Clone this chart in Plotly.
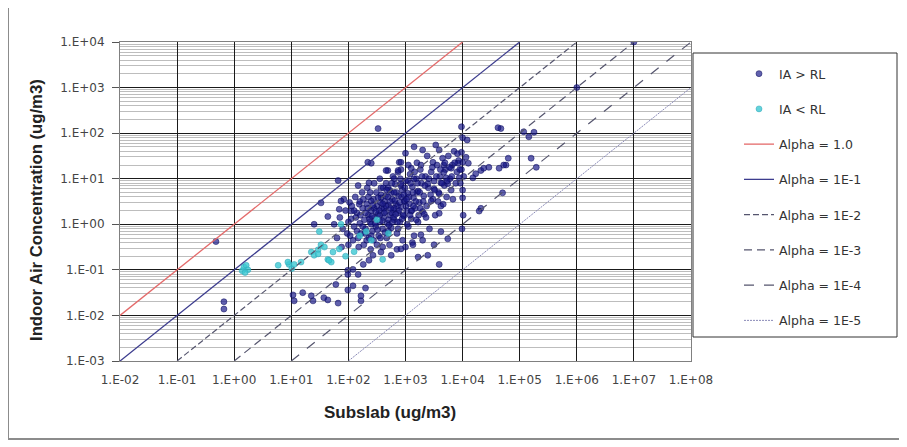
import plotly.graph_objects as go

# ---- data (as log10 values) ----
ia_above_log_x = [
    -0.32, -0.18, -0.18, 7.0, 6.0, 2.52,
    3.98, 4.0, 4.08, 3.98, 4.06, 4.0, 4.1, 4.67, 5.07, 5.16, 5.25, 4.8, 4.76, 4.64,
    4.32, 4.23, 4.37, 4.46, 4.18, 4.7, 4.32, 5.2, 5.29, 3.98, 4.02, 3.96, 4.0, 4.01,
    3.99, 4.62, 4.72, 4.29,
    2.05, 2.1, 2.15, 2.2, 2.22, 2.25, 2.28, 2.3, 2.32, 2.35, 2.36, 2.38, 2.4, 2.42,
    2.44, 2.46, 2.48, 2.5, 2.52, 2.53, 2.55, 2.57, 2.58, 2.6, 2.62, 2.63, 2.65, 2.67,
    2.68, 2.7, 2.72, 2.73, 2.75, 2.77, 2.78, 2.8, 2.82, 2.83, 2.85, 2.87, 2.88, 2.9,
    2.92, 2.94, 2.95, 2.97, 2.98, 3.0, 3.02, 3.04, 3.05, 3.07, 3.08, 3.1, 3.12, 3.14,
    3.15, 3.17, 3.19, 3.2, 3.22, 3.24, 3.26, 3.28, 3.3, 3.32, 3.35, 3.37, 3.4, 3.42,
    3.45, 3.48, 3.5, 3.52, 3.55, 3.58, 3.6, 3.62, 3.65, 3.68, 3.7, 3.72, 3.75, 3.78,
    3.8, 3.82, 3.85, 3.88, 3.9, 3.93, 1.95, 1.98, 2.0, 2.02, 2.08, 2.12, 2.18, 2.24,
    2.27, 2.33, 2.39, 2.45, 2.5, 2.55, 2.6, 2.66, 2.72, 2.78, 2.85, 2.92, 3.0, 3.05,
    3.12, 3.2, 3.3, 3.38, 1.9, 1.85, 1.8, 1.75, 1.88, 1.92, 2.4, 2.45, 2.62, 2.7,
    2.76, 2.86, 2.55, 2.65,
    1.99, 2.08, 2.17, 2.43, 2.36, 2.26, 2.57, 2.75, 2.92, 3.22, 3.39, 3.59, 3.13, 3.5,
    3.74, 3.62, 3.27, 2.22, 2.22, 1.99, 1.99,
    1.2, 1.35, 1.38, 1.57, 1.82, 1.05, 1.03, 1.78, 2.08, 1.64, 2.3,
    2.34, 2.4, 2.89, 2.69, 2.87, 1.82, 2.17, 2.36, 2.57, 1.52, 1.87, 1.84, 1.64, 2.05,
    2.19, 2.4, 2.57, 2.75, 2.92, 1.4,
    3.15, 3.3, 3.53, 3.59, 2.92, 3.0, 2.66, 2.87, 3.1, 3.27, 3.48, 3.67, 3.8, 3.92,
    3.67, 3.71, 3.74, 3.62, 3.5, 3.39, 3.15, 3.04, 2.92, 2.8, 2.69, 3.22, 3.45, 3.66,
    3.83, 4.0, 3.94, 3.59, 2.98, 2.8, 3.1, 3.33, 3.59,
    2.1, 2.15, 2.2, 2.25, 2.3, 2.32, 2.35, 2.37, 2.4, 2.43, 2.47, 2.49, 2.51, 2.54,
    2.56, 2.59, 2.61, 2.64, 2.66, 2.69, 2.71, 2.74, 2.76, 2.79, 2.81, 2.84, 2.86, 2.89,
    2.91, 2.93, 2.96, 2.99, 3.01, 3.03, 3.06, 3.09, 3.11, 3.13, 3.16, 3.18, 3.21, 3.23,
    3.25, 3.29, 3.31, 3.34, 3.36, 3.41, 3.44, 3.47, 3.51, 3.54, 3.57, 3.61, 3.64, 3.69,
    3.73, 3.77, 3.81, 3.86, 3.91, 3.95, 2.0, 2.03, 2.06, 2.13, 2.17, 2.21, 2.26, 2.29,
    2.34, 2.38, 2.41, 2.44, 2.48, 2.52, 2.56, 2.6, 2.63, 2.67, 2.7, 2.73, 2.77, 2.8,
    2.83, 2.87, 2.9, 2.94, 2.97, 3.02, 3.08, 3.14, 3.19, 3.26,
]
ia_above_log_y = [
    -0.38, -1.70, -1.86, 4.0, 3.0, 2.1,
    2.14, 1.9, 1.85, 1.58, 1.47, 1.36, 1.34, 2.1, 2.03, 1.92, 2.02, 1.45, 1.3, 1.23,
    1.18, 1.11, 1.23, 1.25, 1.02, 0.69, 0.35, 1.45, 1.25, 1.2, 1.05, 0.9, 0.75, 0.2,
    -0.1, 2.12, 1.3, 0.29,
    0.12, -0.05, 0.25, 0.02, -0.2, 0.35, 0.1, -0.1, 0.45, 0.2, -0.3, 0.05, 0.3, -0.15,
    0.55, 0.15, -0.05, 0.4, 0.22, -0.25, 0.05, 0.65, 0.35, -0.1, 0.15, 0.5, 0.28, -0.3,
    0.02, 0.42, 0.75, 0.2, -0.08, 0.55, 0.32, 0.1, 0.88, 0.45, -0.2, 0.25, 0.62, 0.05,
    0.38, 0.75, -0.35, 0.18, 0.5, 0.95, 0.3, 0.68, -0.05, 0.45, 1.1, 0.12, 0.82, 0.58,
    -0.25, 0.35, 1.0, 0.7, 0.05, 0.48, 1.2, 0.9, 0.28, 0.62, 1.05, 0.4, 0.8, -0.1,
    1.15, 0.55, 0.95, 0.2, 1.3, 0.7, 1.05, 0.4, 1.45, 0.85, 1.2, 0.6, 1.5, 1.0,
    0.75, 1.3, 1.6, 0.9, 1.15, 1.4, 0.3, -0.2, -0.45, 0.48, -0.35, 0.6, -0.5, 0.7,
    -0.45, 0.8, -0.55, 0.9, -0.45, 1.0, -0.5, 0.9, -0.45, 1.05, -0.55, 1.2, -0.5, 1.3,
    -0.4, 1.35, -0.35, 1.5, -0.1, 0.15, -0.3, 0.0, -0.5, 0.55, 0.0, 0.35, 0.35, 0.1,
    0.25, 0.4, 0.2, 0.62,
    -1.01, -0.99, -1.1, -0.68, -0.79, -0.88, -0.61, -0.68, -0.54, -0.72, -0.68, -0.88, -0.45, -0.45,
    -0.32, -0.16, -0.23, -1.57, -1.68, -1.1, -1.44,
    -1.5, -1.57, -1.68, -1.61, -1.73, -1.68, -1.55, -1.32, -1.35, -1.66, -1.4,
    1.36, 1.34, 1.36, 1.18, 1.14, 0.96, 0.85, 0.91, 0.8, 0.47, 0.51, 0.33, 0.17, 0.29,
    0.44, 0.51, 0.58, 0.69, 0.85, 0.0,
    1.7, 1.63, 1.74, 1.63, 1.36, 1.56, 1.18, 1.18, 1.23, 1.3, 1.36, 1.3, 1.23, 1.34,
    1.14, 1.02, 0.89, 0.91, 0.78, 0.89, 1.0, 0.96, 0.89, 1.0, 0.8, 0.73, 0.51, 0.44,
    0.55, 0.58, 1.02, 0.67, 0.51, 0.35, 0.29, 0.22, 0.24,
    0.3, -0.15, 0.5, -0.05, 0.25, -0.35, 0.6, 0.12, -0.25, 0.42, 0.02, 0.7, -0.12, 0.3,
    0.48, 0.08, 0.8, -0.18, 0.4, 0.6, -0.02, 0.35, 0.9, 0.15, 0.52, 0.7, 0.05, 0.3,
    1.0, 0.6, 0.2, 0.8, 0.4, 0.0, 0.6, 0.9, 0.3, 0.7, 1.15, 0.5, 0.9, 0.2,
    0.7, 1.05, 0.5, 0.85, 0.15, 1.0, 0.65, 1.25, 0.75, 1.05, 0.5, 1.2, 0.9, 1.35,
    0.95, 1.25, 1.05, 1.35, 1.55, 1.2, 0.05, -0.25, 0.4, 0.15, -0.3, 0.2, 0.55, -0.2,
    0.35, 0.7, 0.18, -0.35, 0.28, 0.58, -0.3, 0.45, 0.25, 0.75, -0.15, 0.5, 0.05, 0.7,
    0.22, -0.1, 0.48, 0.12, 0.65, 0.55, 0.2, 0.4, 0.1, 0.35,
]
ia_below_log_x = [
    0.17, 0.21, 0.24, 0.14, 0.19, 0.77, 0.96, 1.01, 0.94, 1.05, 1.35, 1.4, 1.52, 1.64,
    1.7, 1.73, 1.47, 1.84, 1.17, 2.6, 2.4, 2.31, 1.47, 1.66, 1.49, 1.87, 1.58, 1.95,
    2.1, 2.5, 2.7, 2.2,
]
ia_below_log_y = [
    -0.94, -0.9, -1.0, -1.02, -1.06, -0.9, -0.88, -0.97, -0.83, -0.88, -0.61, -0.68, -0.45, -0.77,
    -0.83, -0.61, -0.56, -0.54, -0.83, -0.77, -0.35, -0.16, -0.65, -0.79, -0.16, 0.0, -0.5, -0.7,
    -0.6, 0.1, -0.2, -0.25,
]

alpha_values = [1.0, 1e-1, 1e-2, 1e-3, 1e-4, 1e-5]
alpha_names = ["Alpha = 1.0", "Alpha = 1E-1", "Alpha = 1E-2",
               "Alpha = 1E-3", "Alpha = 1E-4", "Alpha = 1E-5"]

x_tick_labels = ["1.E-02", "1.E-01", "1.E+00", "1.E+01", "1.E+02", "1.E+03",
                 "1.E+04", "1.E+05", "1.E+06", "1.E+07", "1.E+08"]
y_tick_labels = ["1.E-03", "1.E-02", "1.E-01", "1.E+00", "1.E+01", "1.E+02",
                 "1.E+03", "1.E+04"]
x_tick_vals = [10.0 ** e for e in range(-2, 9)]
y_tick_vals = [10.0 ** e for e in range(-3, 5)]

X_MIN, X_MAX = 1e-2, 1e8
Y_MIN, Y_MAX = 1e-3, 1e4

# ---- styles ----
line_styles = [
    dict(color="#e46a6a", width=1.3, dash="solid"),
    dict(color="#3c3c8e", width=1.3, dash="solid"),
    dict(color="#55556e", width=1.2, dash="6px,3px"),
    dict(color="#55556e", width=1.2, dash="8px,5px"),
    dict(color="#55556e", width=1.2, dash="10px,10px"),
    dict(color="#8a8ab8", width=1.0, dash="2px,1px"),
]

FONT = "Liberation Sans, Arial, sans-serif"
TICKFONT = "DejaVu Sans, sans-serif"

fig = go.Figure()

fig.add_trace(go.Scatter(
    x=[10 ** v for v in ia_above_log_x], y=[10 ** v for v in ia_above_log_y],
    mode="markers", name="IA > RL", legendgroup="g1",
    marker=dict(size=6, color="rgba(22,22,135,0.68)",
                line=dict(width=0.6, color="rgba(10,10,90,0.85)")),
))
fig.add_trace(go.Scatter(
    x=[10 ** v for v in ia_below_log_x], y=[10 ** v for v in ia_below_log_y],
    mode="markers", name="IA < RL", legendgroup="g2",
    marker=dict(size=6, color="rgba(60,200,210,0.8)",
                line=dict(width=0.5, color="rgba(40,160,180,0.9)")),
))

for i, (a, nm) in enumerate(zip(alpha_values, alpha_names)):
    x0 = max(X_MIN, Y_MIN / a)
    x1 = min(X_MAX, Y_MAX / a)
    fig.add_trace(go.Scatter(
        x=[x0, x1], y=[a * x0, a * x1], mode="lines", name=nm,
        legendgroup="g%d" % (i + 3), line=line_styles[i],
    ))

# The page body has an 8px margin; window coords are shifted by OFF.
OFF = 8
W, H = 907 - OFF, 447 - OFF
# plot area in window pixels: x 120..691, y 42..361
L, R, T, B = 120 - OFF, 691 - OFF, 42 - OFF, 361 - OFF
pw, ph = R - L, B - T

def px(xw):
    return (xw - OFF - L) / pw

def py(yw):
    return (B - (yw - OFF)) / ph

shapes = [
    # outer chart frame
    dict(type="rect", xref="paper", yref="paper",
         x0=px(8), x1=px(901), y0=py(439), y1=py(5),
         line=dict(color="#8c8c8c", width=2), layer="below"),
    # legend frame
    dict(type="rect", xref="paper", yref="paper",
         x0=px(693), x1=px(897), y0=py(337), y1=py(53),
         line=dict(color="#333333", width=1), fillcolor="white", layer="below"),
]

annotations = [
    dict(text="<b>Indoor Air Concentration (ug/m3)</b>", xref="paper", yref="paper",
         x=px(36), y=py(210), textangle=-90, showarrow=False,
         font=dict(size=16.7, color="#222", family=FONT), xanchor="center", yanchor="middle"),
    dict(text="<b>Subslab (ug/m3)</b>", xref="paper", yref="paper",
         x=px(390), y=py(412), showarrow=False,
         font=dict(size=17, color="#222", family=FONT), xanchor="center", yanchor="middle"),
]

fig.update_layout(
    width=W, height=H,
    margin=dict(l=L, r=W - R, t=T, b=H - B, pad=0),
    paper_bgcolor="white", plot_bgcolor="white",
    font=dict(family=FONT, size=10, color="#333"),
    showlegend=True,
    legend=dict(x=px(739), y=py(59), xanchor="left", yanchor="top",
                bgcolor="rgba(0,0,0,0)", borderwidth=0,
                tracegroupgap=16, traceorder="grouped",
                font=dict(size=12.5, color="#333", family=TICKFONT)),
    shapes=shapes, annotations=annotations,
)

fig.update_xaxes(
    type="log", range=[-2, 8], tickvals=x_tick_vals, ticktext=x_tick_labels,
    showgrid=True, gridcolor="#1a1a1a", gridwidth=1,
    showline=True, linecolor="#808080", linewidth=1, mirror=True,
    ticks="", zeroline=False, automargin=False, ticklabelstandoff=8,
    tickfont=dict(size=12, color="#444", family=TICKFONT),
)
fig.update_yaxes(
    type="log", range=[-3, 4], tickvals=y_tick_vals, ticktext=y_tick_labels,
    showgrid=True, gridcolor="#1a1a1a", gridwidth=1,
    showline=True, linecolor="#808080", linewidth=1, mirror=True,
    ticks="outside", ticklen=7, tickcolor="#555", zeroline=False, automargin=False,
    ticklabelstandoff=5,
    tickfont=dict(size=12, color="#444", family=TICKFONT),
    minor=dict(showgrid=True, gridcolor="#bdbdbd", gridwidth=1, dtick="D1", ticks=""),
)

fig.write_html("out.html")
